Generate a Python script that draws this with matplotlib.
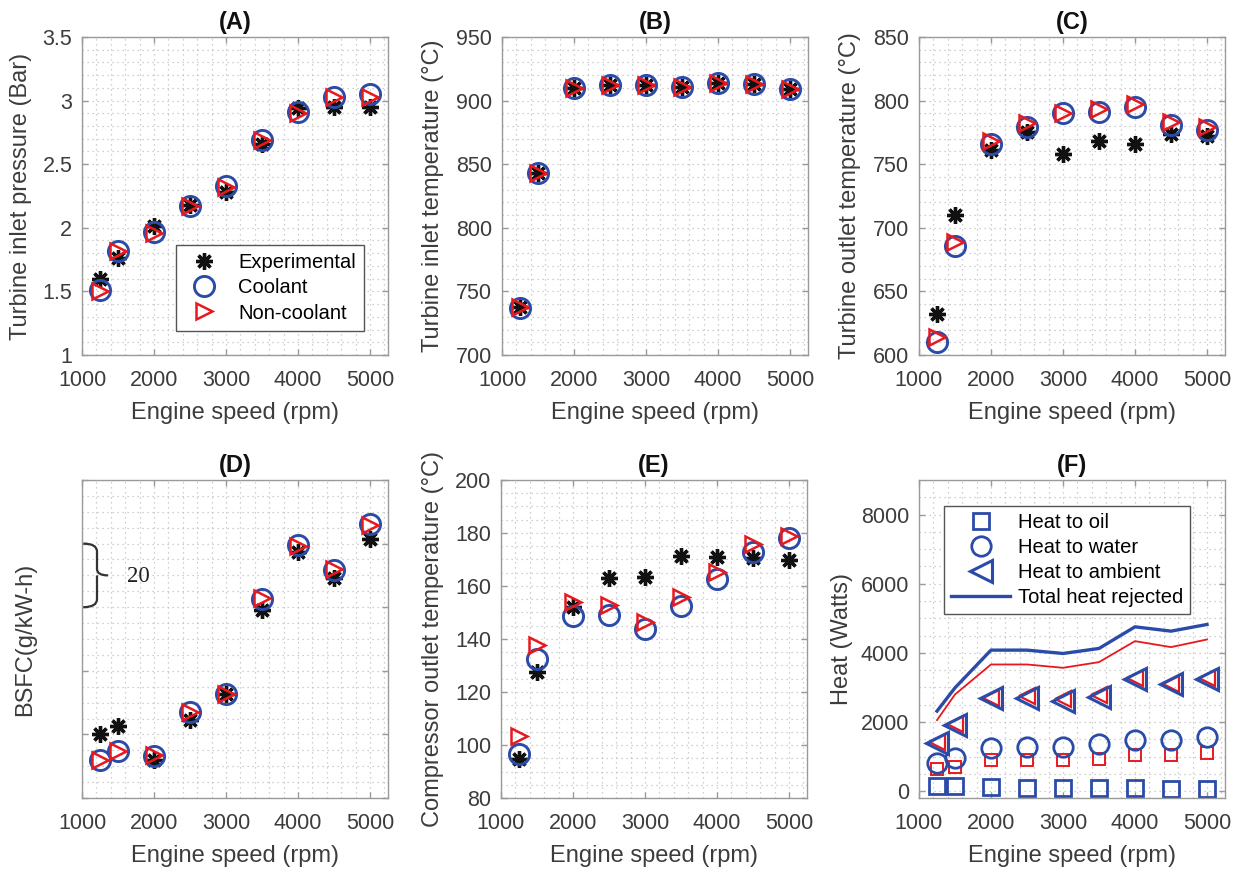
import matplotlib
matplotlib.use("Agg")
import matplotlib.pyplot as plt
from matplotlib.path import Path
from matplotlib.patches import PathPatch
from matplotlib.ticker import MultipleLocator, FuncFormatter

# data
speed = [1250, 1500, 2000, 2500, 3000, 3500, 4000, 4500, 5000]

# (A) turbine inlet pressure, bar
tip_exp = [1.60, 1.76, 2.01, 2.18, 2.28, 2.66, 2.94, 2.95, 2.95]
tip_cool = [1.51, 1.82, 1.97, 2.17, 2.33, 2.69, 2.91, 3.03, 3.05]
tip_nonc = [1.50, 1.82, 1.96, 2.17, 2.32, 2.69, 2.90, 3.03, 3.03]

# (B) turbine inlet temperature, degC
tit_exp = [738, 843, 910, 912, 912, 911, 914, 913, 909]
tit_cool = [737, 843, 910, 912, 912, 911, 914, 913, 909]
tit_nonc = [738, 843, 910, 912, 912, 911, 914, 913, 909]

# (C) turbine outlet temperature, degC
tot_exp = [632, 710, 761, 775, 758, 768, 766, 774, 772]
tot_cool = [610, 686, 766, 779, 790, 791, 795, 781, 777]
tot_nonc = [614, 689, 768, 782, 790, 793, 797, 783, 779]

# (D) BSFC, g/kW-h (no absolute scale shown)
bsfc_exp = [260.2, 262.5, 252.0, 264.6, 272.8, 299.2, 317.2, 309.3, 321.4]
bsfc_cool = [251.8, 254.7, 253.3, 266.9, 272.8, 302.6, 319.6, 311.7, 326.1]
bsfc_nonc = [251.8, 254.7, 253.6, 267.2, 272.8, 302.8, 319.3, 311.9, 325.9]

# (E) compressor outlet temperature, degC
cot_exp = [94.8, 127.6, 152.1, 163.1, 163.5, 171.4, 171.0, 170.4, 169.8]
cot_cool = [96.7, 132.4, 148.6, 149.0, 143.6, 152.4, 162.8, 172.9, 178.0]
cot_nonc = [103.3, 137.7, 153.8, 152.8, 146.5, 155.9, 165.4, 175.7, 179.0]

# (F) heat balance, W  (blue = coolant, red = non-coolant)
oil_cool = [145, 145, 125, 96, 77, 77, 77, 67, 67]
water_cool = [819, 964, 1253, 1282, 1282, 1350, 1465, 1475, 1562]
amb_cool = [1398, 1909, 2699, 2699, 2603, 2728, 3229, 3085, 3229]
total_cool = [2314, 2988, 4078, 4078, 3981, 4126, 4752, 4627, 4820]
water_nonc = [627, 704, 887, 887, 897, 935, 1041, 1041, 1089]
amb_nonc = [1417, 1928, 2699, 2747, 2651, 2767, 3278, 3104, 3278]
total_nonc = [2053, 2796, 3663, 3663, 3567, 3731, 4338, 4165, 4386]

BLUE = "#2B4BA8"
RED = "#E8191E"
BLACK = "#111111"
TXT = "#3c3c3c"
EDGE = "#9a9a9a"
GRIDC = "#c0c0c0"

plt.rcParams.update({
    "font.family": ["Liberation Sans", "DejaVu Sans"],
    "font.size": 15,
    "axes.edgecolor": EDGE,
    "axes.linewidth": 1.0,
    "xtick.color": EDGE,
    "ytick.color": EDGE,
    "xtick.labelcolor": TXT,
    "ytick.labelcolor": TXT,
    "axes.labelcolor": TXT,
})

fig = plt.figure(figsize=(12.5, 8.73), dpi=100)

W, H = 0.2448, 0.3643
pos = {
    "A": [0.0656, 0.5934, W, H],
    "B": [0.4016, 0.5934, W, H],
    "C": [0.7352, 0.5934, W, H],
    "D": [0.0656, 0.0859, W, H],
    "E": [0.4008, 0.0859, W, H],
    "F": [0.7352, 0.0859, W, H],
}

gfmt = FuncFormatter(lambda v, p: "%g" % v)


def setup(ax, title, ylabel, ylim, ymaj, ymin, ylab_x):
    ax.set_xlim(1000, 5250)
    ax.set_ylim(*ylim)
    ax.xaxis.set_major_locator(MultipleLocator(1000))
    ax.xaxis.set_minor_locator(MultipleLocator(200))
    ax.yaxis.set_major_locator(MultipleLocator(ymaj))
    ax.yaxis.set_minor_locator(MultipleLocator(ymin))
    ax.yaxis.set_major_formatter(gfmt)
    ax.tick_params(which="major", direction="in", length=4, width=1,
                   top=True, right=True, labelsize=15.5)
    ax.tick_params(axis="x", which="major", pad=11)
    ax.tick_params(axis="y", which="major", pad=7)
    ax.tick_params(which="minor", length=0)
    ax.grid(True, which="both", linestyle=(0, (1, 3)), color=GRIDC, linewidth=0.9)
    ax.set_axisbelow(True)
    ax.set_title(title, fontsize=17, fontweight="bold", color=BLACK, pad=6)
    ax.set_xlabel("Engine speed (rpm)", fontsize=17, labelpad=8)
    ax.set_ylabel(ylabel, fontsize=17)
    ax.yaxis.set_label_coords(ylab_x, 0.5)


def three(ax, exp, cool, nonc):
    ax.plot(speed, exp, ls="none", marker=(8, 2, 0), ms=12, mew=2.4,
            color=BLACK, label="Experimental")
    ax.plot(speed, cool, ls="none", marker="o", ms=14.5, mew=2.1, mfc="none",
            mec=BLUE, label="Coolant")
    ax.plot(speed, nonc, ls="none", marker=">", ms=11, mew=1.8, mfc="none",
            mec=RED, label="Non-coolant")


axA = fig.add_axes(pos["A"])
setup(axA, "(A)", "Turbine inlet pressure (Bar)", (1, 3.5), 0.5, 0.1, -0.165)
three(axA, tip_exp, tip_cool, tip_nonc)
leg = axA.legend(loc="lower right", bbox_to_anchor=(0.955, 0.045), fontsize=14.5,
                 labelspacing=0.32, handletextpad=0.7, borderpad=0.4,
                 fancybox=False, edgecolor="#555555", framealpha=1)
leg.get_frame().set_linewidth(1.0)

axB = fig.add_axes(pos["B"])
setup(axB, "(B)", "Turbine inlet temperature (\u00b0C)", (700, 950), 50, 10, -0.19)
three(axB, tit_exp, tit_cool, tit_nonc)

axC = fig.add_axes(pos["C"])
setup(axC, "(C)", "Turbine outlet temperature (\u00b0C)", (600, 850), 50, 10, -0.19)
three(axC, tot_exp, tot_cool, tot_nonc)

axD = fig.add_axes(pos["D"])
setup(axD, "(D)", "BSFC(g/kW-h)", (240, 340), 20, 5, -0.15)
axD.tick_params(axis="y", labelleft=False)
three(axD, bsfc_exp, bsfc_cool, bsfc_nonc)
# curly brace marking one 20 g/kW-h division
tr = axD.get_yaxis_transform()
xv, xt, x0 = 0.049, 0.085, 0.004
verts = [(x0, 320), (xv, 320), (xv, 317.5), (xv, 312), (xv, 310), (xt, 310),
         (xv, 310), (xv, 308), (xv, 302.5), (xv, 300), (x0, 300)]
codes = [Path.MOVETO, Path.CURVE3, Path.CURVE3, Path.LINETO, Path.CURVE3, Path.CURVE3,
         Path.MOVETO, Path.CURVE3, Path.LINETO, Path.CURVE3, Path.CURVE3]
axD.add_patch(PathPatch(Path(verts, codes), transform=tr, fill=False,
                        edgecolor="#333333", linewidth=1.6, clip_on=False))
axD.text(0.183, 309.5, "20", transform=tr, ha="center", va="center",
         fontsize=16.5, family="Liberation Serif", color="#222222")

axE = fig.add_axes(pos["E"])
setup(axE, "(E)", "Compressor outlet temperature (\u00b0C)", (80, 200), 20, 5, -0.185)
three(axE, cot_exp, cot_cool, cot_nonc)

axF = fig.add_axes(pos["F"])
setup(axF, "(F)", "Heat (Watts)", (-200, 9000), 2000, 500, -0.215)
axF.plot(speed, total_nonc, color=RED, lw=1.3)
axF.plot(speed, water_nonc, ls="none", marker="s", ms=8.5, mew=1.4, mfc="none", mec=RED)
axF.plot(speed, amb_nonc, ls="none", marker="<", ms=11, mew=1.6, mfc="none", mec=RED)
axF.plot(speed, oil_cool, ls="none", marker="s", ms=11, mew=2.0, mfc="none",
         mec=BLUE, label="Heat to oil")
axF.plot(speed, water_cool, ls="none", marker="o", ms=14, mew=2.0, mfc="none",
         mec=BLUE, label="Heat to water")
axF.plot(speed, amb_cool, ls="none", marker="<", ms=16, mew=2.2, mfc="none",
         mec=BLUE, label="Heat to ambient")
axF.plot(speed, total_cool, color=BLUE, lw=2.4, label="Total heat rejected")
legF = axF.legend(loc="upper left", bbox_to_anchor=(0.05, 0.95), fontsize=14.5,
                  labelspacing=0.3, handlelength=2.9, handletextpad=0.4,
                  borderpad=0.35, fancybox=False, edgecolor="#555555", framealpha=1)
legF.get_frame().set_linewidth(1.0)

fig.savefig("out.png", dpi=100, facecolor="white")
